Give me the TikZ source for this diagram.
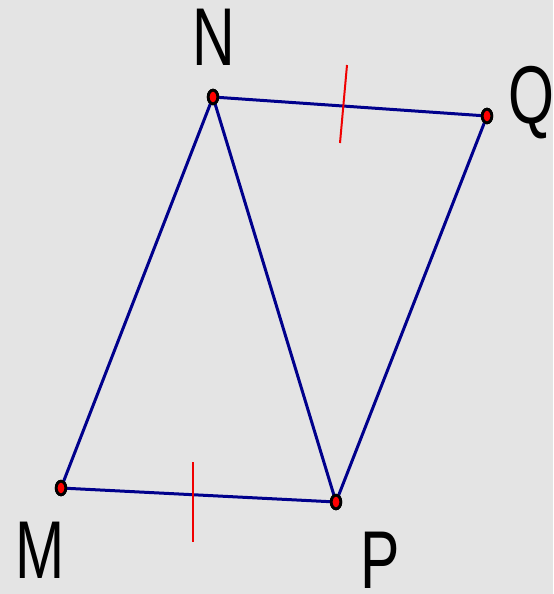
\documentclass[tikz,border=0pt]{standalone}
\usepackage{fontspec}
\setmainfont{Liberation Sans}
\usetikzlibrary{shapes.geometric}
\definecolor{bggrey}{RGB}{228,228,228}
\definecolor{sidenavy}{RGB}{0,0,140}
\definecolor{tickred}{RGB}{240,0,0}
\newcommand{\vlab}[1]{\scalebox{0.72}[1]{#1}}

\begin{document}
\begin{tikzpicture}[x=0.5pt,y=-0.5pt,
  pt/.style={ellipse,draw=black,fill=red,line width=1.4pt,inner sep=0pt,
             minimum width=4.8pt,minimum height=6.8pt},
  lbl/.style={inner sep=0pt,anchor=base,font=\fontsize{41}{44}\selectfont},
  side/.style={sidenavy,line width=1.5pt},
  tick/.style={tickred,line width=1pt}]

\fill[bggrey] (0,0) rectangle (553,594);
\useasboundingbox (0,0) rectangle (553,594);

% vertices
\node[pt] (N) at (213,97) {};
\node[pt] (Q) at (487,116) {};
\node[pt] (P) at (336,502) {};
\node[pt] (M) at (61,488) {};

% labels
\node[lbl] (lN) at (214,65) {\vlab{N}};
\node[lbl] (lQ) at (531,123) {\vlab{Q}};
\node[lbl] (lM) at (40,578) {\vlab{M}};
\node[lbl] (lP) at (380,588) {\vlab{P}};

% sides and diagonal
\draw[side] (N.center)--(Q.center)--(P.center)--(M.center)--cycle;
\draw[side] (N.center)--(P.center);

% equal marks
\coordinate (t1a) at (347,65);  \coordinate (t1b) at (340,143);
\coordinate (t2a) at (193,462); \coordinate (t2b) at (193,542);
\draw[tick] (t1a)--(t1b);
\draw[tick] (t2a)--(t2b);

% redraw dots over the lines
\foreach \v in {N,Q,P,M}
  \node[pt] at (\v) {};
\end{tikzpicture}
\end{document}
